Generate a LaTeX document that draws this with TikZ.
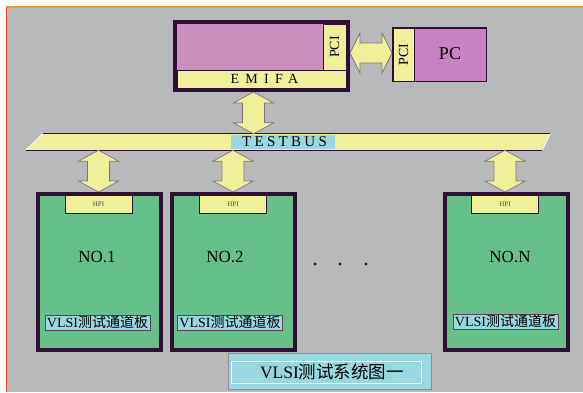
\documentclass[tikz,border=0pt]{standalone}
\usepackage{fontspec}
\setmainfont{Liberation Serif}
\newfontfamily\cjk{Noto Sans CJK SC}
\usetikzlibrary{calc, positioning}
\definecolor{cBack}{RGB}{184,185,187}
\definecolor{cDark}{RGB}{48,16,50}
\definecolor{cPink}{RGB}{203,143,192}
\definecolor{cPinkPC}{RGB}{198,130,194}
\definecolor{cYellow}{RGB}{240,240,154}
\definecolor{cGreen}{RGB}{102,192,138}
\definecolor{cCyan}{RGB}{153,216,224}
\definecolor{cFrameRed}{RGB}{240,60,40}
\definecolor{cFrameOrange}{RGB}{245,150,60}
\tikzset{
  %% boxes
  hostbox/.style={rectangle, draw=cDark, fill=cPink, line width=4pt,
                  minimum width=173pt, minimum height=68pt, inner sep=0pt},
  pcbox/.style={rectangle, draw=cDark, fill=cPinkPC, line width=1.5pt,
                minimum width=93.5pt, minimum height=53.5pt, inner sep=0pt},
  board/.style={rectangle, draw=cDark, fill=cGreen, line width=4pt,
                minimum width=123pt, minimum height=156pt, inner sep=0pt},
  strip/.style={rectangle, draw=cDark, fill=cYellow, line width=0.8pt, inner sep=0pt},
  hpi/.style={strip, minimum width=67pt, minimum height=18pt,
              font=\fontsize{7}{7}\selectfont, text=cDark!80},
  boardlabel/.style={rectangle, draw=cDark!80, fill=cCyan, line width=1pt,
                     minimum width=105pt, minimum height=15pt, inner sep=0pt,
                     font=\fontsize{14}{14}\selectfont},
  notext/.style={font=\fontsize{17}{17}\selectfont, inner sep=0pt},
  %% block arrows
  blockarrow/.style={draw=cDark!60, fill=cYellow, line width=0.7pt},
  varrow/.style={blockarrow, to path={
      let \p1=(\tikztostart), \p2=(\tikztotarget) in
      -- (\x1+20pt,\y1-11pt) -- (\x1+11pt,\y1-11pt) -- (\x1+11pt,\y2+11pt)
      -- (\x1+20pt,\y2+11pt) -- (\x1,\y2) -- (\x1-20pt,\y2+11pt)
      -- (\x1-11pt,\y2+11pt) -- (\x1-11pt,\y1-11pt) -- (\x1-20pt,\y1-11pt) -- cycle}},
  harrow/.style={blockarrow, to path={
      let \p1=(\tikztostart), \p2=(\tikztotarget) in
      -- (\x1+10pt,\y1+20pt) -- (\x1+10pt,\y1+10pt) -- (\x2-10pt,\y1+10pt)
      -- (\x2-10pt,\y1+20pt) -- (\x2,\y1) -- (\x2-10pt,\y1-20pt)
      -- (\x2-10pt,\y1-10pt) -- (\x1+10pt,\y1-10pt) -- (\x1+10pt,\y1-20pt) -- cycle}},
}

\begin{document}
\begin{tikzpicture}[x=1pt, y=-1pt]
\useasboundingbox (0,0) rectangle (583,392);

%% =============================================================
%%  BACKGROUND
%% =============================================================
\fill[white] (0,0) rectangle (583,392);
\fill[cBack] (7,8) rectangle (583,392);
\draw[cFrameOrange, line width=1.2pt] (6,7) -- (583,7);
\draw[cFrameRed, line width=1.2pt] (6.5,7) -- (6.5,392);

%% =============================================================
%%  HOST (EMIFA) AND PC
%% =============================================================
\node[hostbox] (emifa) at (261.5, 56) {};
\node[strip, minimum width=23pt, minimum height=46pt] (pciA) at (334.5, 47) {};
\node[rotate=90, font=\fontsize{14}{14}\selectfont] (pciAtxt) at (pciA) {PCI};
\node[strip, minimum width=169pt, minimum height=18pt,
      font={\fontsize{14}{14}\selectfont\addfontfeature{LetterSpace=45}}]
  (emifaBar) at (261.5, 79) {\hspace{6pt}EMIFA};

\node[pcbox] (pc) at (439.5, 54.5) {};
\node[strip, minimum width=21pt, minimum height=53pt] (pciB) at (403.5, 54.5) {};
\node[rotate=90, font=\fontsize{14}{14}\selectfont] (pciBtxt) at (pciB) {PCI};
\node[font=\fontsize{18}{18}\selectfont] (pctxt) at (450, 54) {PC};

%% -- host <-> PC --
\draw[harrow] ([yshift=3pt]emifa.east) to (pc.west);

%% =============================================================
%%  TESTBUS
%% =============================================================
\node[minimum width=524pt, minimum height=16pt, inner sep=0pt] (bus) at (288, 142) {};
\fill[cYellow] ([xshift=17pt]bus.north west) -- (bus.north east)
  -- ([xshift=-8pt]bus.south east) -- (bus.south west) -- cycle;
\draw[white, line width=0.8pt] ([xshift=17pt]bus.north west) -- (bus.south west);
\draw[white, line width=0.8pt] (bus.north east) -- ([xshift=-8pt]bus.south east);
\draw[cDark, line width=1pt] ([xshift=17pt]bus.north west) -- (bus.north east);
\draw[cDark, line width=1pt] (bus.south west) -- ([xshift=-8pt]bus.south east);
\node[fill=cCyan, minimum width=104pt, minimum height=14pt, inner sep=0pt,
      font={\fontsize{15}{15}\selectfont\addfontfeature{LetterSpace=22}}]
  (testbus) at (283, 142) {\hspace{3pt}TESTBUS};

%% -- host -> bus --
\draw[varrow] ([xshift=-8pt]emifa.south) to ([xshift=-8pt]emifa.south |- bus.north);

%% =============================================================
%%  TEST CHANNEL BOARDS
%% =============================================================
\node[board] (b1) at ( 99.5, 272) {};
\node[board] (b2) at (233.5, 272) {};
\node[board] (bN) at (506.0, 272) {};

\node[hpi] (h1) at ( 98.5, 204) {HPI};
\node[hpi] (h2) at (233.0, 204) {HPI};
\node[hpi] (hN) at (505.0, 204) {HPI};

\node[notext] (n1) at ( 97.0, 257) {NO.1};
\node[notext] (n2) at (225.0, 257) {NO.2};
\node[notext] (nN) at (510.0, 257) {NO.N};

\node[boardlabel] (l1) at ( 97.5, 322.5) {VLSI{\cjk 测试通道板}};
\node[boardlabel] (l2) at (230.0, 322.5) {VLSI{\cjk 测试通道板}};
\node[boardlabel] (lN) at (505.5, 321.5) {VLSI{\cjk 测试通道板}};

%% -- bus -> boards --
\draw[varrow] (bus.south -| h1.north) to (b1.north -| h1.north);
\draw[varrow] (bus.south -| h2.north) to (b2.north -| h2.north);
\draw[varrow] (bus.south -| hN.north) to (bN.north -| hN.north);

%% -- dots --
\foreach \dx in {315, 340, 366}
  \fill[cDark] (\dx, 264) circle (1.7pt);

%% =============================================================
%%  TITLE
%% =============================================================
\node[fill=cCyan, draw=cDark!50, line width=1pt, minimum width=203pt,
      minimum height=36pt, inner sep=0pt] (tbox) at (330, 371.5) {};
\node[draw=white, line width=1pt, minimum width=190pt, minimum height=22pt,
      inner sep=0pt] (tframe) at (326, 372) {};
\node[font=\fontsize{17.5}{17.5}\selectfont] (title) at (332, 372)
  {VLSI{\cjk 测试系统图一}};

\end{tikzpicture}
\end{document}
